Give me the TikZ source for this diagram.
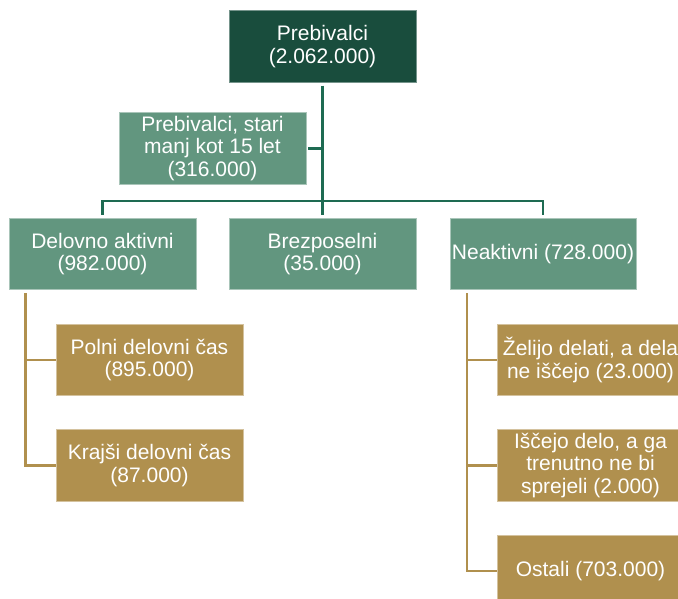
\documentclass[tikz,border=0pt]{standalone}
\usepackage{fontspec}
\setmainfont{Liberation Sans}
\definecolor{topgreen}{HTML}{194D3D}
\definecolor{midgreen}{HTML}{62967F}
\definecolor{gold}{HTML}{B0904E}
\definecolor{linegreen}{HTML}{1E6B52}
\begin{document}
\begin{tikzpicture}[x=1pt,y=-1pt,
  box/.style={rectangle, inner sep=2pt, minimum width=187pt, minimum height=71.5pt,
    align=center, text=white, font=\fontsize{21}{22.5}\selectfont, line width=0.8pt},
  topbox/.style={box, fill=topgreen, draw=topgreen!60!white},
  greenbox/.style={box, fill=midgreen, draw=midgreen!55!white},
  goldbox/.style={box, fill=gold, draw=gold!55!white},
  gline/.style={draw=linegreen, line width=2.6pt},
  oline/.style={draw=gold, line width=2.4pt}]
\useasboundingbox (0,0) rectangle (678,598);

\node[topbox] (top) at (322.5,46.5) {Prebivalci\\(2.062.000)};
\node[greenbox] (under) at (212.5,148.5) {Prebivalci, stari\\manj kot 15 let\\(316.000)};
\node[greenbox] (delovno) at (102.5,254) {Delovno aktivni\\(982.000)};
\node[greenbox] (brez) at (322.5,254) {Brezposelni\\(35.000)};
\node[greenbox, minimum width=186pt] (neak) at (543,254) {Neaktivni (728.000)};
\node[goldbox] (polni) at (149.5,360) {Polni delovni čas\\(895.000)};
\node[goldbox] (krajsi) at (149.5,465.5) {Krajši delovni čas\\(87.000)};
\node[goldbox] (zelijo) at (590.5,360) {Želijo delati, a dela\\ne iščejo (23.000)};
\node[goldbox] (iscejo) at (590.5,465.5) {Iščejo delo, a ga\\trenutno ne bi\\sprejeli (2.000)};
\node[goldbox] (ostali) at (590.5,571) {Ostali (703.000)};

\coordinate (bar) at (322.5,201);
\draw[gline, shorten <=3pt, shorten >=3pt] (top.south) -- (brez.north);
\draw[gline, shorten >=3pt] (bar) -| (delovno.north);
\draw[gline, shorten >=3pt] (bar) -| (neak.north);
\draw[gline, shorten <=2pt] (under.east) -- (under.east -| top.south);

\draw[oline, shorten <=3pt] ([xshift=17pt]delovno.south west) |- (polni.west);
\draw[oline, shorten <=3pt] ([xshift=17pt]delovno.south west) |- (krajsi.west);
\draw[oline, shorten <=3pt] ([xshift=17.5pt]neak.south west) |- (zelijo.west);
\draw[oline, shorten <=3pt] ([xshift=17.5pt]neak.south west) |- (iscejo.west);
\draw[oline, shorten <=3pt] ([xshift=17.5pt]neak.south west) |- (ostali.west);
\end{tikzpicture}
\end{document}
